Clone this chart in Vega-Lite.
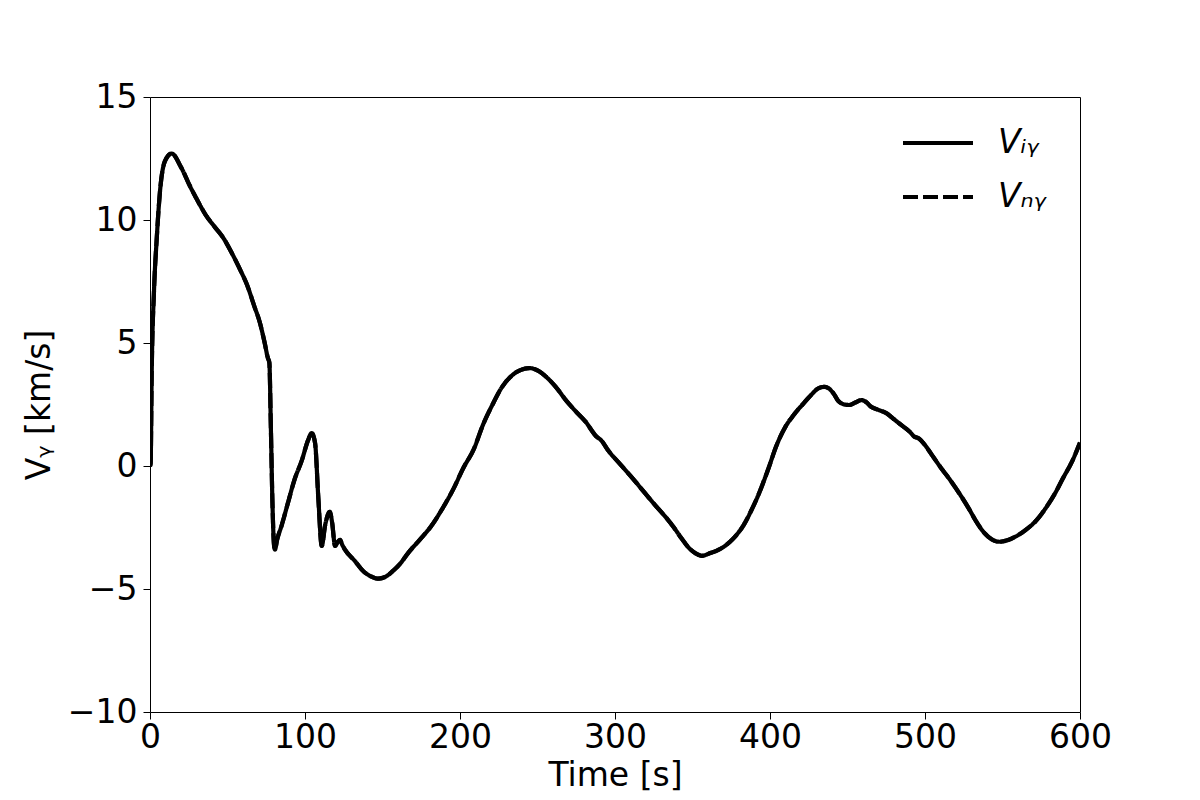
{
  "$schema": "https://vega.github.io/schema/vega-lite/v6.json",
  "width": 930,
  "height": 615,
  "autosize": {"type": "none"},
  "padding": {"left": 150, "top": 97, "right": 120, "bottom": 88},
  "background": "white",
  "config": {
    "font": "DejaVu Sans",
    "view": {"stroke": "black", "strokeWidth": 1},
    "axis": {
      "domain": false,
      "grid": false,
      "labelFlush": false,
      "labelOverlap": false,
      "tickColor": "black",
      "tickSize": 7,
      "tickWidth": 1,
      "labelFont": "DejaVu Sans",
      "labelFontSize": 33,
      "labelColor": "black",
      "titleFont": "DejaVu Sans",
      "titleFontSize": 33,
      "titleFontWeight": "normal",
      "titleColor": "black"
    }
  },
  "data": {
    "values": [
      {"t": 0, "viy": 0, "vny": 0},
      {"t": 0.4, "viy": 0.1, "vny": 0.1},
      {"t": 1.1, "viy": 3.8, "vny": 3.8},
      {"t": 2.6, "viy": 7.15, "vny": 7.15},
      {"t": 4.3, "viy": 9.2, "vny": 9.2},
      {"t": 6.5, "viy": 11.2, "vny": 11.2},
      {"t": 9.7, "viy": 12.4, "vny": 12.4},
      {"t": 14, "viy": 12.7, "vny": 12.7},
      {"t": 20, "viy": 12.15, "vny": 12.15},
      {"t": 26, "viy": 11.35, "vny": 11.35},
      {"t": 31, "viy": 10.75, "vny": 10.75},
      {"t": 36, "viy": 10.2, "vny": 10.2},
      {"t": 42, "viy": 9.7, "vny": 9.7},
      {"t": 47, "viy": 9.3, "vny": 9.3},
      {"t": 52, "viy": 8.75, "vny": 8.75},
      {"t": 58, "viy": 8.0, "vny": 8.0},
      {"t": 63, "viy": 7.3, "vny": 7.3},
      {"t": 67, "viy": 6.55, "vny": 6.55},
      {"t": 71, "viy": 5.8, "vny": 5.8},
      {"t": 74, "viy": 5.0, "vny": 5.0},
      {"t": 76, "viy": 4.4, "vny": 4.4},
      {"t": 77, "viy": 4.2, "vny": 4.2},
      {"t": 78, "viy": 1.5, "vny": 1.5},
      {"t": 79, "viy": -1.5, "vny": -1.5},
      {"t": 80, "viy": -3.2, "vny": -3.2},
      {"t": 80.6, "viy": -3.4, "vny": -3.4},
      {"t": 82, "viy": -3.0, "vny": -3.0},
      {"t": 85, "viy": -2.4, "vny": -2.4},
      {"t": 89, "viy": -1.5, "vny": -1.5},
      {"t": 93, "viy": -0.6, "vny": -0.6},
      {"t": 98, "viy": 0.24, "vny": 0.24},
      {"t": 102, "viy": 1.05, "vny": 1.05},
      {"t": 104.3, "viy": 1.34, "vny": 1.34},
      {"t": 106.5, "viy": 0.93, "vny": 0.93},
      {"t": 108.6, "viy": -1.3, "vny": -1.3},
      {"t": 110.8, "viy": -3.25, "vny": -3.25},
      {"t": 113, "viy": -2.4, "vny": -2.4},
      {"t": 116, "viy": -1.86, "vny": -1.86},
      {"t": 117.5, "viy": -2.3, "vny": -2.3},
      {"t": 119.4, "viy": -3.25, "vny": -3.25},
      {"t": 121, "viy": -3.1, "vny": -3.1},
      {"t": 122.6, "viy": -3.0, "vny": -3.0},
      {"t": 124, "viy": -3.2, "vny": -3.2},
      {"t": 125.8, "viy": -3.4, "vny": -3.4},
      {"t": 132, "viy": -3.85, "vny": -3.85},
      {"t": 138, "viy": -4.3, "vny": -4.3},
      {"t": 143, "viy": -4.5, "vny": -4.5},
      {"t": 147, "viy": -4.58, "vny": -4.58},
      {"t": 152, "viy": -4.5, "vny": -4.5},
      {"t": 157, "viy": -4.25, "vny": -4.25},
      {"t": 161, "viy": -4.0, "vny": -4.0},
      {"t": 167, "viy": -3.5, "vny": -3.5},
      {"t": 174, "viy": -3.0, "vny": -3.0},
      {"t": 181, "viy": -2.48, "vny": -2.48},
      {"t": 188, "viy": -1.8, "vny": -1.8},
      {"t": 196, "viy": -0.9, "vny": -0.9},
      {"t": 202, "viy": -0.1, "vny": -0.1},
      {"t": 209, "viy": 0.7, "vny": 0.7},
      {"t": 215, "viy": 1.7, "vny": 1.7},
      {"t": 221, "viy": 2.5, "vny": 2.5},
      {"t": 227, "viy": 3.2, "vny": 3.2},
      {"t": 233, "viy": 3.65, "vny": 3.65},
      {"t": 239, "viy": 3.9, "vny": 3.9},
      {"t": 245, "viy": 3.98, "vny": 3.98},
      {"t": 251, "viy": 3.85, "vny": 3.85},
      {"t": 256, "viy": 3.6, "vny": 3.6},
      {"t": 262, "viy": 3.2, "vny": 3.2},
      {"t": 268, "viy": 2.7, "vny": 2.7},
      {"t": 275, "viy": 2.2, "vny": 2.2},
      {"t": 281, "viy": 1.8, "vny": 1.8},
      {"t": 288, "viy": 1.2, "vny": 1.2},
      {"t": 291, "viy": 1.05, "vny": 1.05},
      {"t": 296, "viy": 0.6, "vny": 0.6},
      {"t": 303, "viy": 0.1, "vny": 0.1},
      {"t": 310, "viy": -0.4, "vny": -0.4},
      {"t": 318, "viy": -1.0, "vny": -1.0},
      {"t": 326, "viy": -1.6, "vny": -1.6},
      {"t": 333, "viy": -2.1, "vny": -2.1},
      {"t": 338, "viy": -2.5, "vny": -2.5},
      {"t": 343, "viy": -2.95, "vny": -2.95},
      {"t": 348, "viy": -3.35, "vny": -3.35},
      {"t": 352, "viy": -3.55, "vny": -3.55},
      {"t": 356, "viy": -3.65, "vny": -3.65},
      {"t": 361, "viy": -3.55, "vny": -3.55},
      {"t": 367, "viy": -3.4, "vny": -3.4},
      {"t": 372, "viy": -3.2, "vny": -3.2},
      {"t": 377, "viy": -2.9, "vny": -2.9},
      {"t": 383, "viy": -2.4, "vny": -2.4},
      {"t": 388, "viy": -1.8, "vny": -1.8},
      {"t": 393, "viy": -1.1, "vny": -1.1},
      {"t": 399, "viy": -0.1, "vny": -0.1},
      {"t": 404, "viy": 0.8, "vny": 0.8},
      {"t": 410, "viy": 1.6, "vny": 1.6},
      {"t": 415, "viy": 2.05, "vny": 2.05},
      {"t": 421, "viy": 2.5, "vny": 2.5},
      {"t": 426, "viy": 2.85, "vny": 2.85},
      {"t": 431, "viy": 3.15, "vny": 3.15},
      {"t": 435, "viy": 3.22, "vny": 3.22},
      {"t": 438, "viy": 3.15, "vny": 3.15},
      {"t": 441, "viy": 2.95, "vny": 2.95},
      {"t": 444, "viy": 2.65, "vny": 2.65},
      {"t": 447, "viy": 2.52, "vny": 2.52},
      {"t": 451, "viy": 2.48, "vny": 2.48},
      {"t": 455, "viy": 2.58, "vny": 2.58},
      {"t": 459, "viy": 2.68, "vny": 2.68},
      {"t": 462, "viy": 2.6, "vny": 2.6},
      {"t": 465, "viy": 2.42, "vny": 2.42},
      {"t": 470, "viy": 2.28, "vny": 2.28},
      {"t": 475, "viy": 2.15, "vny": 2.15},
      {"t": 480, "viy": 1.9, "vny": 1.9},
      {"t": 485, "viy": 1.65, "vny": 1.65},
      {"t": 490, "viy": 1.4, "vny": 1.4},
      {"t": 493, "viy": 1.2, "vny": 1.2},
      {"t": 496, "viy": 1.12, "vny": 1.12},
      {"t": 500, "viy": 0.85, "vny": 0.85},
      {"t": 505, "viy": 0.4, "vny": 0.4},
      {"t": 510, "viy": -0.05, "vny": -0.05},
      {"t": 516, "viy": -0.55, "vny": -0.55},
      {"t": 522, "viy": -1.1, "vny": -1.1},
      {"t": 528, "viy": -1.7, "vny": -1.7},
      {"t": 533, "viy": -2.25, "vny": -2.25},
      {"t": 538, "viy": -2.7, "vny": -2.7},
      {"t": 543, "viy": -2.98, "vny": -2.98},
      {"t": 548, "viy": -3.08, "vny": -3.08},
      {"t": 553, "viy": -3.02, "vny": -3.02},
      {"t": 559, "viy": -2.85, "vny": -2.85},
      {"t": 566, "viy": -2.55, "vny": -2.55},
      {"t": 572, "viy": -2.2, "vny": -2.2},
      {"t": 578, "viy": -1.7, "vny": -1.7},
      {"t": 584, "viy": -1.1, "vny": -1.1},
      {"t": 589, "viy": -0.5, "vny": -0.5},
      {"t": 595, "viy": 0.2, "vny": 0.2},
      {"t": 600, "viy": 0.95, "vny": 0.95}
    ]
  },
  "transform": [{"fold": ["viy", "vny"], "as": ["series", "v"]}],
  "mark": {"type": "line", "strokeWidth": 4.2, "clip": true, "interpolate": "monotone", "strokeJoin": "round"},
  "encoding": {
    "x": {
      "field": "t",
      "type": "quantitative",
      "scale": {"domain": [0, 600], "nice": false},
      "axis": {
        "values": [0, 100, 200, 300, 400, 500, 600],
        "title": "Time [s]",
        "labelPadding": 2,
        "titleX": 465,
        "titleY": 73,
        "titleBaseline": "alphabetic",
        "titleAlign": "center"
      }
    },
    "y": {
      "field": "v",
      "type": "quantitative",
      "scale": {"domain": [-10, 15], "nice": false, "zero": false},
      "axis": {
        "values": [-10, -5, 0, 5, 10, 15],
        "title": "Vᵧ [km/s]",
        "labelPadding": 6,
        "titleX": -101,
        "titleY": 307.5,
        "titleBaseline": "alphabetic",
        "titleAlign": "center"
      }
    },
    "color": {
      "field": "series",
      "type": "nominal",
      "sort": ["viy", "vny"],
      "scale": {"domain": ["viy", "vny"], "range": ["black", "black"]},
      "legend": {
        "title": null,
        "orient": "none",
        "legendX": 751,
        "legendY": 9,
        "padding": 0,
        "symbolType": "stroke",
        "symbolSize": 4900,
        "symbolStrokeWidth": 4,
        "rowPadding": -13,
        "labelOffset": 23,
        "labelFont": "DejaVu Sans",
        "labelFontSize": 33,
        "labelFontStyle": "italic",
        "labelColor": "black",
        "labelExpr": "datum.label == 'viy' ? 'Vᵢᵧ' : 'Vₙᵧ'"
      }
    },
    "strokeDash": {
      "field": "series",
      "type": "nominal",
      "sort": ["viy", "vny"],
      "scale": {"domain": ["viy", "vny"], "range": [[1, 0], [15, 5]]},
      "legend": {
        "title": null,
        "orient": "none",
        "legendX": 751,
        "legendY": 9,
        "padding": 0,
        "symbolType": "stroke",
        "symbolSize": 4900,
        "symbolStrokeWidth": 4,
        "rowPadding": -13,
        "labelOffset": 23,
        "labelFont": "DejaVu Sans",
        "labelFontSize": 33,
        "labelFontStyle": "italic",
        "labelColor": "black",
        "labelExpr": "datum.label == 'viy' ? 'Vᵢᵧ' : 'Vₙᵧ'"
      }
    }
  }
}
